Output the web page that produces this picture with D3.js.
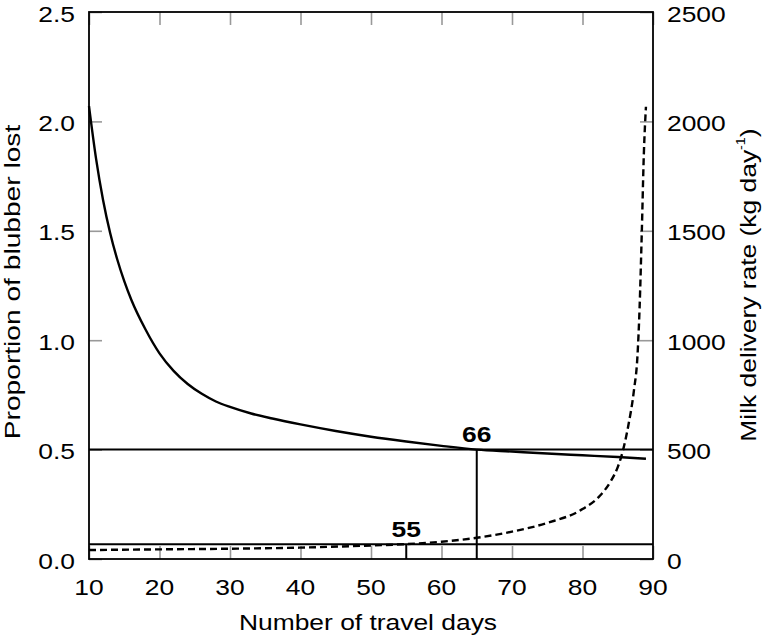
<!DOCTYPE html>
<html>
<head>
<meta charset="utf-8">
<script src="https://cdn.jsdelivr.net/npm/d3@7"></script>
<style>
  body { margin: 0; background: #fff; }
  text { font-family: "Liberation Sans", Arial, Helvetica, sans-serif; fill: #000; }
</style>
</head>
<body>
<div id="chart"></div>
<script>
// blubber lost (left axis), solid line
var blubberDays = [10, 11, 12, 13, 14, 15, 16, 18, 20, 22, 24, 26, 28, 30, 33, 36, 40, 45, 50, 55, 60, 65, 70, 75, 80, 85, 89];
var blubberLost = [2.07, 1.83, 1.64, 1.49, 1.37, 1.27, 1.185, 1.05, 0.94, 0.86, 0.80, 0.755, 0.72, 0.695, 0.665, 0.642, 0.615, 0.585, 0.559, 0.537, 0.517, 0.50, 0.491, 0.482, 0.474, 0.466, 0.458];

// milk delivery rate (right axis), dashed line
var milkDays = [10, 20, 30, 40, 50, 55, 60, 65, 70, 75, 80, 82.5, 84, 85, 85.5, 86.5, 87.3, 87.8, 88.1, 88.4, 88.7, 89];
var milkRate = [41, 44, 47, 52, 62, 68, 79, 97, 125, 165, 228, 290, 355, 420, 468, 610, 772, 930, 1150, 1480, 1850, 2067];

// tick labels
var xTicks = [10, 20, 30, 40, 50, 60, 70, 80, 90];
var yLeftTicks = [0, 0.5, 1.0, 1.5, 2.0, 2.5];
var yRightTicks = [0, 500, 1000, 1500, 2000, 2500];

// reference lines and their labels
var refLevels = [0.5, 0.067];
var markerDays = [65, 55];
var markerLabels = ["66", "55"];

var margin = {top: 12, right: 111, bottom: 80, left: 89},
    width = 764 - margin.left - margin.right,
    height = 639 - margin.top - margin.bottom;

var svg = d3.select("#chart")
  .append("svg")
  .attr("width", 764)
  .attr("height", 639)
  .append("g")
  .attr("transform", "translate(" + margin.left + "," + margin.top + ")");

var x = d3.scaleLinear().domain([10, 90]).range([0, width]);
var yL = d3.scaleLinear().domain([0, 2.5]).range([height, 0]);
var yR = d3.scaleLinear().domain([0, 2500]).range([height, 0]);

var sx = 1.2; // the reference font is drawn wide

function label(g, px, py, str, size, anchor, weight, rot, stretch) {
  return g.append("text")
    .attr("transform", "translate(" + px + "," + py + ") rotate(" + (rot || 0) + ") scale(" + (stretch || sx) + ",1)")
    .attr("text-anchor", anchor)
    .attr("dominant-baseline", "central")
    .style("font-size", size + "px")
    .style("font-weight", weight || "normal")
    .text(str);
}

// grey inner ticks
var tickLen = 13;
function styleTicks(g) {
  g.select(".domain").remove();
  g.selectAll(".tick line").attr("stroke", "#999").attr("stroke-width", 1.6);
  g.selectAll(".tick text").remove();
}
svg.append("g").attr("transform", "translate(0," + height + ")")
  .call(d3.axisBottom(x).tickValues(xTicks).tickSize(-tickLen)).call(styleTicks);
svg.append("g")
  .call(d3.axisTop(x).tickValues(xTicks).tickSize(-tickLen)).call(styleTicks);
svg.append("g")
  .call(d3.axisLeft(yL).tickValues(yLeftTicks).tickSize(-tickLen)).call(styleTicks);
svg.append("g").attr("transform", "translate(" + width + ",0)")
  .call(d3.axisRight(yR).tickValues(yRightTicks).tickSize(-tickLen)).call(styleTicks);

// tick labels
xTicks.forEach(function(d) { label(svg, x(d), height + 28, d, 22, "middle"); });
yLeftTicks.forEach(function(d) { label(svg, -14, yL(d) + 2, d3.format(".1f")(d), 22, "end"); });
yRightTicks.forEach(function(d) { label(svg, width + 14, yR(d) + 2, d, 22, "start"); });

// frame
svg.append("rect")
  .attr("width", width).attr("height", height)
  .attr("fill", "none").attr("stroke", "#000").attr("stroke-width", 1.8);

// reference lines
refLevels.forEach(function(v) {
  svg.append("line")
    .attr("x1", 0).attr("x2", width)
    .attr("y1", yL(v)).attr("y2", yL(v))
    .attr("stroke", "#000").attr("stroke-width", 2);
});
markerDays.forEach(function(d, i) {
  svg.append("line")
    .attr("x1", x(d)).attr("x2", x(d))
    .attr("y1", yL(refLevels[i])).attr("y2", height)
    .attr("stroke", "#000").attr("stroke-width", 2);
  label(svg, x(d), yL(refLevels[i]) - 15, markerLabels[i], 22, "middle", "bold");
});

// curves
var blubberLine = d3.line()
  .x(function(d, i) { return x(blubberDays[i]); })
  .y(function(d) { return yL(d); })
  .curve(d3.curveMonotoneX);
svg.append("path")
  .datum(blubberLost)
  .attr("d", blubberLine)
  .attr("fill", "none").attr("stroke", "#000").attr("stroke-width", 2.4);

var milkLine = d3.line()
  .x(function(d, i) { return x(milkDays[i]); })
  .y(function(d) { return yR(d); })
  .curve(d3.curveMonotoneX);
svg.append("path")
  .datum(milkRate)
  .attr("d", milkLine)
  .attr("fill", "none").attr("stroke", "#000").attr("stroke-width", 2.4)
  .attr("stroke-dasharray", "7,4");

// axis titles
label(svg, 279, height + 63, "Number of travel days", 22, "middle");
label(svg, -77, 270, "Proportion of blubber lost", 22, "middle", "normal", -90, 1.28);

var rt = svg.append("text")
  .attr("transform", "translate(" + (width + 95) + ",273) rotate(-90) scale(" + sx + ",1)")
  .attr("text-anchor", "middle")
  .attr("dominant-baseline", "central")
  .style("font-size", "22px");
rt.append("tspan").text("Milk delivery rate (kg day");
rt.append("tspan").attr("baseline-shift", "super").style("font-size", "12px").text("-1");
rt.append("tspan").text(")");
</script>
</body>
</html>
